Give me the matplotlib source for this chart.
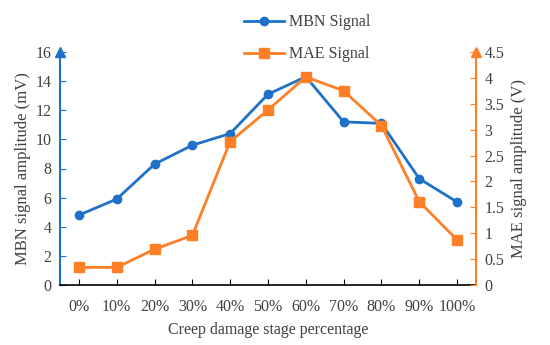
import numpy as np
import matplotlib.pyplot as plt

plt.rcParams['font.family'] = ['Liberation Serif', 'DejaVu Serif']

stages = ["0%", "10%", "20%", "30%", "40%", "50%", "60%", "70%", "80%", "90%", "100%"]
mbn = [4.8, 5.9, 8.3, 9.6, 10.4, 13.1, 14.3, 11.2, 11.1, 7.3, 5.7]
mae = [0.34, 0.34, 0.69, 0.96, 2.77, 3.38, 4.02, 3.75, 3.08, 1.61, 0.87]

blue = "#1f70c8"
orange = "#ff7f27"
grey = "#404040"

fig = plt.figure(figsize=[5.5, 3.45], dpi=100)
ax = fig.add_axes([60/550, 60/345, 416/550, 233/345])
ax2 = ax.twinx()

x = np.arange(len(stages))
l1, = ax.plot(x, mbn, color=blue, lw=2, marker="o", ms=6, label="MBN Signal")
l2, = ax2.plot(x, mae, color=orange, lw=2, marker="s", ms=7, label="MAE Signal")

ax.set_xlim(-0.5, len(stages) - 0.5)
ax.set_ylim(0, 16)
ax2.set_ylim(0, 4.5)
ax.set_yticks(np.arange(0, 17, 2))
ax2.set_yticks(np.arange(0, 4.6, 0.5))
ax2.set_yticklabels(["0", "0.5", "1", "1.5", "2", "2.5", "3", "3.5", "4", "4.5"])
ax.set_xticks(x)
ax.set_xticklabels(stages)

for a in (ax, ax2):
    a.spines["top"].set_visible(False)
ax.spines["right"].set_visible(False)
ax2.spines["left"].set_visible(False)
ax2.spines["bottom"].set_visible(False)
ax.spines["left"].set_color(blue)
ax.spines["left"].set_linewidth(1.5)
ax2.spines["right"].set_color(orange)
ax2.spines["right"].set_linewidth(1.5)
ax.spines["bottom"].set_color("black")
ax.spines["bottom"].set_linewidth(1.2)

ax.tick_params(axis="y", direction="in", length=4, color=blue, labelcolor=grey, labelsize=11.5, pad=6)
ax.tick_params(axis="x", direction="in", length=4, color="black", labelcolor=grey, labelsize=11.5, pad=10)
ax2.tick_params(axis="y", direction="in", length=4, color=orange, labelcolor=grey, labelsize=11.5, pad=6)

# arrow heads on the value axes
ax.plot([0], [1.0], marker="^", ms=7, color=blue, transform=ax.transAxes, clip_on=False)
ax2.plot([1], [1.0], marker="^", ms=7, color=orange, transform=ax2.transAxes, clip_on=False)

ax.set_xlabel("Creep damage stage percentage", color=grey, fontsize=11.5, labelpad=5)
ax.set_ylabel("MBN signal amplitude (mV)", color=grey, fontsize=12, labelpad=3)
ax2.set_ylabel("MAE signal amplitude (V)", color=grey, fontsize=12, labelpad=5)

fig.legend(handles=[l1, l2], loc="upper left", bbox_to_anchor=(230/550, 1.0),
           frameon=False, fontsize=11.5, labelcolor=grey, handlelength=2.5,
           labelspacing=1.0, handletextpad=0.3)

fig.savefig("out.png")
